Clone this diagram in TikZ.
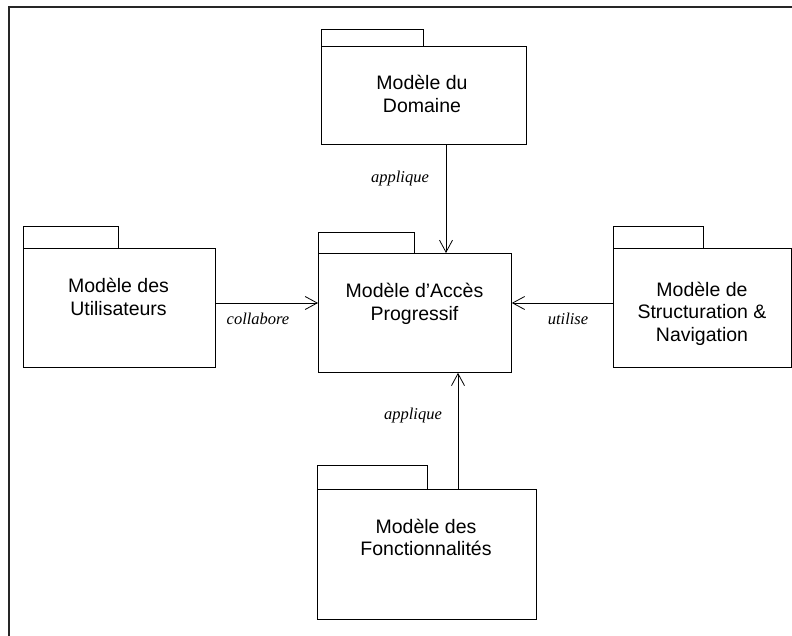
\documentclass[tikz,border=0pt]{standalone}
\usepackage{fontspec}
\setmainfont{Liberation Sans}
\newfontfamily\labelfont{Liberation Serif}
\usetikzlibrary{arrows.meta}
\tikzset{
  body/.style={draw=black, line width=0.8pt, inner sep=0pt, anchor=north west},
  tabbox/.style={draw=black, line width=0.8pt},
  title/.style={align=center, inner sep=0pt, anchor=base, font=\fontsize{19.5}{22.5}\selectfont},
  lbl/.style={inner sep=0pt, anchor=base, font=\labelfont\itshape\fontsize{16.5}{19}\selectfont},
  arr/.style={draw=black, line width=0.8pt, -{Straight Barb[length=12pt,width=13pt,line width=0.8pt]}},
  frameline/.style={draw=black!85, line width=2.2pt}
}
\begin{document}
\begin{tikzpicture}[x=1pt,y=-1pt]
\useasboundingbox (0,0) rectangle (792,636);
% outer frame
\coordinate (f1) at (9,640);
\coordinate (f2) at (9,7);
\coordinate (f3) at (800,7);
\draw[frameline] (f1) -- (f2) -- (f3);
% package bodies
\node[body, minimum width=205pt, minimum height=98pt] (dom) at (321,46) {};
\node[body, minimum width=192pt, minimum height=119pt] (uti) at (23,248) {};
\node[body, minimum width=193pt, minimum height=119pt] (acc) at (318,253) {};
\node[body, minimum width=178pt, minimum height=119pt] (str) at (613,248) {};
\node[body, minimum width=219pt, minimum height=130pt] (fon) at (317,489) {};
% tabs
\draw[tabbox] (dom.north west) rectangle ++(102,-17);
\draw[tabbox] (uti.north west) rectangle ++(95,-22);
\draw[tabbox] (acc.north west) rectangle ++(96,-21);
\draw[tabbox] (str.north west) rectangle ++(90,-22);
\draw[tabbox] (fon.north west) rectangle ++(110,-24);
% titles (base anchor = baseline of last line)
\node[title] (tdom) at (422,112.5) {Modèle du\\Domaine};
\node[title] (tuti) at (118.5,315.3) {Modèle des\\Utilisateurs};
\node[title] (tacc) at (414.5,320.2) {Modèle d’Accès\\Progressif};
\node[title] (tstr) at (702,341) {Modèle de\\Structuration \&\\Navigation};
\node[title] (tfon) at (426,555.5) {Modèle des\\Fonctionnalités};
% connectors
\coordinate (xa) at (446,0);
\coordinate (xb) at (458,0);
\coordinate (ya) at (0,303);
\draw[arr] (dom.south -| xa) -- (acc.north -| xa);
\draw[arr] (fon.north -| xb) -- (acc.south -| xb);
\draw[arr] (uti.east |- ya) -- (acc.west |- ya);
\draw[arr] (str.west |- ya) -- (acc.east |- ya);
% labels
\node[lbl] (l1) at (400,183) {applique};
\node[lbl] (l2) at (258,324.3) {collabore};
\node[lbl] (l3) at (568,324.3) {utilise};
\node[lbl] (l4) at (413,419) {applique};
\end{tikzpicture}
\end{document}
